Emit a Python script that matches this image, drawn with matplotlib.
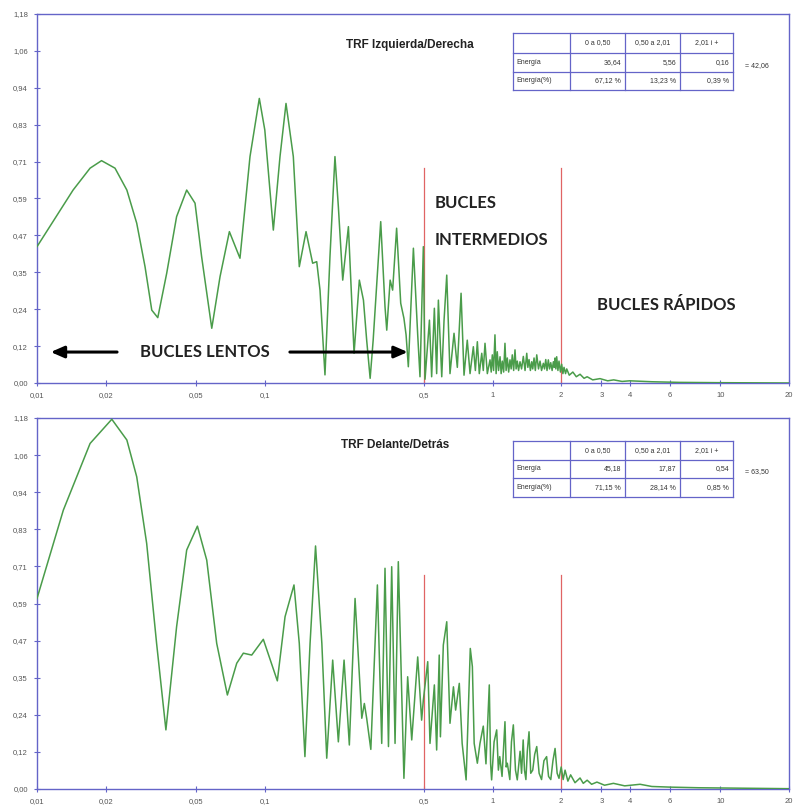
import matplotlib
matplotlib.use("Agg")
import matplotlib.pyplot as plt
from matplotlib.lines import Line2D

W, H = 794, 807

# --- data ----------------------------------------------------------------
top_freq = [0.0100, 0.0144, 0.0171, 0.0192, 0.0220, 0.0248, 0.0274, 0.0298, 0.0319, 0.0339,
            0.0371, 0.0410, 0.0454, 0.0494, 0.0528, 0.0585, 0.0636, 0.0699, 0.0778, 0.0861,
            0.0946, 0.1000, 0.109, 0.1166, 0.1239, 0.1334, 0.1417, 0.1517, 0.1622, 0.169,
            0.1747, 0.1837, 0.1932, 0.2032, 0.2103, 0.2198, 0.2328, 0.2465, 0.260, 0.271,
            0.280, 0.290, 0.299, 0.3227, 0.337, 0.343, 0.355, 0.364, 0.379, 0.395,
            0.408, 0.417, 0.4266, 0.449, 0.469, 0.480,
            0.4965, 0.505, 0.519, 0.528, 0.540, 0.555, 0.568, 0.578, 0.598, 0.612,
            0.629, 0.650, 0.677, 0.700, 0.727, 0.749, 0.774, 0.796, 0.823, 0.840,
            0.857, 0.874, 0.896, 0.910, 0.926, 0.948,
            0.974, 0.986, 0.997, 1.010, 1.024, 1.036, 1.048, 1.062, 1.078, 1.090,
            1.103, 1.118, 1.133, 1.146, 1.160, 1.176, 1.192, 1.206, 1.220, 1.237,
            1.254, 1.268, 1.283, 1.300, 1.319, 1.340, 1.364, 1.388, 1.412, 1.428,
            1.445, 1.465, 1.485, 1.500, 1.520, 1.540, 1.562, 1.590, 1.615, 1.640,
            1.670, 1.690, 1.711, 1.733, 1.756, 1.778, 1.800, 1.825, 1.848, 1.865,
            1.879, 1.895, 1.911, 1.935, 1.956, 1.985, 2.010, 2.035, 2.058, 2.090,
            2.115, 2.170, 2.250, 2.330, 2.420, 2.520, 2.600, 2.750, 2.960, 3.200,
            3.400, 3.700, 4.000, 5.000, 6.600, 10.00, 20.00]
top_val = [0.436, 0.617, 0.687, 0.711, 0.687, 0.617, 0.511, 0.372, 0.233, 0.209,
           0.351, 0.532, 0.617, 0.575, 0.404, 0.175, 0.340, 0.484, 0.399, 0.724,
           0.910, 0.809, 0.489, 0.724, 0.894, 0.724, 0.372, 0.484, 0.383, 0.388,
           0.297, 0.026, 0.404, 0.724, 0.564, 0.329, 0.500, 0.095, 0.329, 0.265,
           0.137, 0.015, 0.137, 0.516, 0.244, 0.169, 0.329, 0.297, 0.495, 0.255,
           0.207, 0.154, 0.052, 0.431, 0.154, 0.020,
           0.436, 0.012, 0.130, 0.201, 0.020, 0.239, 0.030, 0.265, 0.020, 0.200,
           0.345, 0.030, 0.159, 0.050, 0.287, 0.025, 0.137, 0.030, 0.116, 0.040,
           0.132, 0.030, 0.095, 0.040, 0.127, 0.030,
           0.074, 0.035, 0.090, 0.040, 0.154, 0.030, 0.100, 0.040, 0.084, 0.030,
           0.070, 0.035, 0.127, 0.040, 0.080, 0.035, 0.074, 0.045, 0.090, 0.040,
           0.106, 0.045, 0.070, 0.040, 0.068, 0.045, 0.085, 0.040, 0.095, 0.050,
           0.075, 0.040, 0.068, 0.045, 0.080, 0.040, 0.090, 0.045, 0.070, 0.040,
           0.063, 0.045, 0.075, 0.040, 0.074, 0.045, 0.065, 0.040, 0.068, 0.050,
           0.080, 0.045, 0.084, 0.040, 0.070, 0.035, 0.060, 0.030, 0.050, 0.030,
           0.045, 0.025, 0.035, 0.020, 0.028, 0.015, 0.020, 0.010, 0.014, 0.007,
           0.010, 0.005, 0.007, 0.004, 0.002, 0.001, 0.000]

bot_freq = [0.0100, 0.01305, 0.0171, 0.0213, 0.0248, 0.0274, 0.0303, 0.0335, 0.0368, 0.0410,
            0.0454, 0.0506, 0.0556, 0.0615, 0.0685, 0.0753, 0.0805, 0.0876, 0.0985, 0.1135,
            0.1227, 0.1343, 0.1417, 0.150, 0.158, 0.167, 0.178, 0.187, 0.1986, 0.2103,
            0.2228, 0.235, 0.249, 0.2665, 0.2735, 0.280, 0.292, 0.312, 0.326, 0.337,
            0.349, 0.3606, 0.373, 0.3855, 0.408, 0.4237, 0.4415, 0.469, 0.488,
            0.4965, 0.519, 0.531, 0.555, 0.568, 0.583, 0.590, 0.6076, 0.629, 0.650,
            0.673, 0.688, 0.714, 0.735, 0.765, 0.798, 0.815, 0.830, 0.857, 0.880,
            0.910, 0.935,
            0.967, 0.980, 0.990, 1.015, 1.042, 1.060, 1.075, 1.100, 1.133, 1.147,
            1.160, 1.190, 1.210, 1.233, 1.260, 1.283, 1.320, 1.340, 1.362, 1.380,
            1.400, 1.420, 1.445, 1.470, 1.500, 1.530, 1.562, 1.600, 1.640, 1.680,
            1.726, 1.760, 1.800, 1.840, 1.880, 1.920, 1.956, 2.000, 2.040, 2.080,
            2.140, 2.200, 2.300, 2.420, 2.500, 2.600, 2.720, 2.870, 3.100, 3.390,
            3.800, 4.440, 5.000, 6.000, 8.000, 11.00, 20.00]
bot_val = [0.606, 0.887, 1.099, 1.176, 1.110, 0.993, 0.781, 0.463, 0.188, 0.516,
           0.760, 0.836, 0.728, 0.463, 0.299, 0.400, 0.432, 0.426, 0.476, 0.344,
           0.548, 0.649, 0.463, 0.103, 0.463, 0.773, 0.463, 0.098, 0.410, 0.150,
           0.410, 0.140, 0.606, 0.225, 0.272, 0.225, 0.126, 0.649, 0.145, 0.702,
           0.135, 0.707, 0.145, 0.723, 0.034, 0.357, 0.156, 0.420, 0.219,
           0.283, 0.405, 0.145, 0.331, 0.124, 0.426, 0.166, 0.458, 0.532, 0.209,
           0.325, 0.251, 0.336, 0.145, 0.029, 0.447, 0.389, 0.145, 0.082, 0.145,
           0.200, 0.080,
           0.331, 0.080, 0.029, 0.150, 0.188, 0.060, 0.103, 0.040, 0.214, 0.070,
           0.082, 0.030, 0.150, 0.204, 0.060, 0.029, 0.120, 0.050, 0.156, 0.060,
           0.030, 0.120, 0.182, 0.050, 0.060, 0.110, 0.135, 0.050, 0.030, 0.090,
           0.103, 0.040, 0.030, 0.090, 0.129, 0.050, 0.034, 0.070, 0.030, 0.060,
           0.025, 0.045, 0.020, 0.035, 0.018, 0.028, 0.015, 0.022, 0.012, 0.018,
           0.010, 0.015, 0.008, 0.006, 0.004, 0.003, 0.001]

band_edges = [0.5, 2.0]
band_top = [0.687, 0.680]

x_ticks = [0.01, 0.02, 0.05, 0.1, 0.5, 1, 2, 3, 4, 6, 10, 20]
x_labels = ["0,01", "0,02", "0,05", "0,1", "0,5", "1", "2", "3", "4", "6", "10", "20"]
y_ticks = [i * 0.118 for i in range(11)]
y_labels = ["0,00", "0,12", "0,24", "0,35", "0,47", "0,59", "0,71", "0,83", "0,94", "1,06", "1,18"]

table_head = ["", "0 a 0,50", "0,50 a 2,01", "2,01 i +"]
top_energy = ["Energía", "36,64", "5,56", "0,16"]
top_pct = ["Energía(%)", "67,12 %", "13,23 %", "0,39 %"]
top_total = "= 42,06"
bot_energy = ["Energía", "45,18", "17,87", "0,54"]
bot_pct = ["Energía(%)", "71,15 %", "28,14 %", "0,85 %"]
bot_total = "= 63,50"

BLUE = "#6464c8"
GREEN = "#4a9c4a"
RED = "#e06464"
TICK = "#555555"
SANS = "Liberation Sans"


def frac(x, y):
    return x / W, 1 - y / H


def style_axes(ax):
    ax.set_xscale("log")
    ax.set_xlim(0.01, 20)
    ax.set_ylim(0, 1.18)
    ax.set_xticks(x_ticks)
    ax.set_xticklabels(x_labels)
    ax.minorticks_off()
    ax.set_yticks(y_ticks)
    ax.set_yticklabels(y_labels)
    for s in ax.spines.values():
        s.set_color(BLUE)
        s.set_linewidth(1.0)
    ax.tick_params(direction="inout", length=5, width=0.8, color=BLUE,
                   labelsize=5.5, labelcolor=TICK, pad=4)
    for lab in ax.get_xticklabels() + ax.get_yticklabels():
        lab.set_family(SANS)


def draw_table(fig, y_edges, rows, total):
    x_edges = [513, 570, 625, 680, 733]
    for y in y_edges:
        x0, yy = frac(x_edges[0], y)
        x1, _ = frac(x_edges[-1], y)
        fig.add_artist(Line2D([x0, x1], [yy, yy], color=BLUE, lw=0.9))
    for x in x_edges:
        xx, y0 = frac(x, y_edges[0])
        _, y1 = frac(x, y_edges[-1])
        fig.add_artist(Line2D([xx, xx], [y0, y1], color=BLUE, lw=0.9))
    for r, row in enumerate(rows):
        yc = (y_edges[r] + y_edges[r + 1]) / 2
        for c, txt in enumerate(row):
            if not txt:
                continue
            if r == 0:
                x, ha = (x_edges[c] + x_edges[c + 1]) / 2, "center"
            elif c == 0:
                x, ha = x_edges[c] + 3, "left"
            else:
                x, ha = x_edges[c + 1] - 4, "right"
            fig.text(*frac(x, yc), txt, ha=ha, va="center", fontsize=5,
                     family=SANS, color="#333333")
    yc = (y_edges[1] + y_edges[2]) / 2 + 3
    fig.text(*frac(745, yc), total, ha="left", va="center", fontsize=5,
             family=SANS, color="#333333")


fig = plt.figure(figsize=(W / 100, H / 100), dpi=100)
ax1 = fig.add_axes([37 / W, 1 - 383 / H, 752 / W, 369 / H])
ax2 = fig.add_axes([37 / W, 1 - 789 / H, 752 / W, 371 / H])

for ax, fx, fy, rtop in [(ax1, top_freq, top_val, band_top[0]),
                         (ax2, bot_freq, bot_val, band_top[1])]:
    style_axes(ax)
    ax.plot(fx, fy, color=GREEN, lw=1.1, zorder=3)
    for e in band_edges:
        ax.plot([e, e], [0, rtop], color=RED, lw=0.9, zorder=2)

ax1.text(0.496, 0.916, "TRF Izquierda/Derecha", transform=ax1.transAxes,
         ha="center", va="center", fontsize=8.5, fontweight="bold",
         family=SANS, color="#222222")
ax2.text(0.476, 0.927, "TRF Delante/Detrás", transform=ax2.transAxes,
         ha="center", va="center", fontsize=8.5, fontweight="bold",
         family=SANS, color="#222222")

lbl = dict(fontsize=12, fontweight="bold", family="Lato", color="#222222", va="center")
ax1.text(0.0547, 0.099, "BUCLES LENTOS", ha="center", **lbl)
ax1.text(0.558, 0.576, "BUCLES", ha="left", **lbl)
ax1.text(0.558, 0.457, "INTERMEDIOS", ha="left", **lbl)
ax1.text(5.8, 0.249, "BUCLES RÁPIDOS", ha="center", **lbl)
arrow = dict(arrowstyle="-|>,head_length=0.8,head_width=0.35", color="black", lw=2.2)
ax1.annotate("", xy=(0.01117, 0.099), xytext=(0.0231, 0.099), arrowprops=arrow)
ax1.annotate("", xy=(0.436, 0.099), xytext=(0.1253, 0.099), arrowprops=arrow)

draw_table(fig, [33, 53, 72, 90], [table_head, top_energy, top_pct], top_total)
draw_table(fig, [441, 460, 478, 497], [table_head, bot_energy, bot_pct], bot_total)

fig.savefig("out.png", dpi=100)
